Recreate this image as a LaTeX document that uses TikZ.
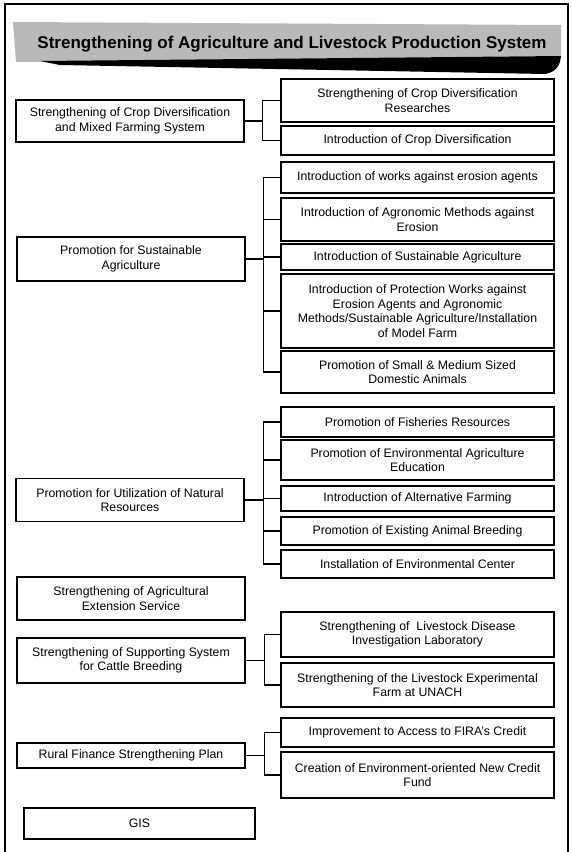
\documentclass[tikz,border=0pt]{standalone}
\usepackage{fontspec}
\setmainfont{Liberation Sans}
\usepackage{xcolor}

\begin{document}
\begin{tikzpicture}[x=1pt, y=-1pt,
    box/.style={draw, line width=1.5pt, align=center, inner sep=2pt,
        font=\fontsize{12.3}{14.6}\selectfont},
    leftbox/.style={box, minimum width=228pt},
    rightbox/.style={box, minimum width=273pt},
    link/.style={line width=1.3pt}] % x=1pt: coordenadas en pixeles
\useasboundingbox (0,0) rectangle (572,852);
\draw[line width=1.2pt] (5,852) -- (5,4) -- (568,4) -- (568,852);

% banner del titulo
\fill[gray!55] (13,22) -- (561,25) -- (561,56) -- (16,62) -- cycle;
\fill[black] (40,61) -- (561,56) .. controls (560,66) and (556,72) .. (545,74) -- (60,65) -- cycle;
\node (title) at (292,44) {\bfseries\fontsize{17}{20}\selectfont Strengthening of Agriculture and Livestock Production System};

\node[leftbox, minimum height=42pt] (L1) at (130,121) {Strengthening of Crop Diversification\\and Mixed Farming System};
\node[leftbox, minimum height=44pt] (L2) at (131,259) {Promotion for Sustainable\\Agriculture};
\node[leftbox, minimum height=43pt] (L3) at (130,500) {Promotion for Utilization of Natural\\Resources};
\node[leftbox, minimum height=43pt] (L4) at (131,598.5) {Strengthening of Agricultural\\Extension Service};
\node[leftbox, minimum height=45pt] (L5) at (131,660.5) {Strengthening of Supporting System\\for Cattle Breeding};
\node[leftbox, minimum height=25pt] (L6) at (131,755.5) {Rural Finance Strengthening Plan};
\node[leftbox, minimum height=31pt, minimum width=231pt] (L7) at (139.5,823.5) {GIS};

\node[rightbox, minimum height=43pt] (R1) at (417.5,100.5) {Strengthening of Crop Diversification\\Researches};
\node[rightbox, minimum height=29pt] (R2) at (417.5,140.5) {Introduction of Crop Diversification};
\node[rightbox, minimum height=31pt] (R3) at (417.5,177.5) {Introduction of works against erosion agents};
\node[rightbox, minimum height=43pt] (R4) at (417.5,219.5) {Introduction of Agronomic Methods against\\Erosion};
\node[rightbox, minimum height=26pt] (R5) at (417.5,257) {Introduction of Sustainable Agriculture};
\node[rightbox, minimum height=74pt] (R6) at (417.5,311) {Introduction of Protection Works against\\Erosion Agents and Agronomic\\Methods/Sustainable Agriculture/Installation\\of Model Farm};
\node[rightbox, minimum height=42pt] (R7) at (417.5,372) {Promotion of Small \& Medium Sized\\Domestic Animals};
\node[rightbox, minimum height=30pt] (R8) at (417.5,422) {Promotion of Fisheries Resources};
\node[rightbox, minimum height=40pt] (R9) at (417.5,460) {Promotion of Environmental Agriculture\\Education};
\node[rightbox, minimum height=25pt] (R10) at (417.5,498.5) {Introduction of Alternative Farming};
\node[rightbox, minimum height=28pt] (R11) at (417.5,531) {Promotion of Existing Animal Breeding};
\node[rightbox, minimum height=28pt] (R12) at (417.5,564) {Installation of Environmental Center};
\node[rightbox, minimum height=45pt] (R13) at (417.5,634.5) {Strengthening of \ Livestock Disease\\Investigation Laboratory};
\node[rightbox, minimum height=44pt] (R14) at (417.5,685) {Strengthening of the Livestock Experimental\\Farm at UNACH};
\node[rightbox, minimum height=29pt] (R15) at (417.5,732.5) {Improvement to Access to FIRA's Credit};
\node[rightbox, minimum height=46pt] (R16) at (417.5,775) {Creation of Environment-oriented New Credit\\Fund};

% conectores
\draw[link] (L1.east) -- ++(18,0) coordinate (k1);
\foreach \r in {R1,R2} \draw[link] (k1) |- (\r.west);
\draw[link] (L2.east) -- ++(18,0) coordinate (k2);
\foreach \r in {R3,R4,R5,R6,R7} \draw[link] (k2) |- (\r.west);
\draw[link] (L3.east) -- ++(19,0) coordinate (k3);
\foreach \r in {R8,R9,R10,R11,R12} \draw[link] (k3) |- (\r.west);
\draw[link] (L5.east) -- ++(19,0) coordinate (k5);
\foreach \r in {R13,R14} \draw[link] (k5) |- (\r.west);
\draw[link] (L6.east) -- ++(19,0) coordinate (k6);
\foreach \r in {R15,R16} \draw[link] (k6) |- (\r.west);
\end{tikzpicture}
\end{document}
